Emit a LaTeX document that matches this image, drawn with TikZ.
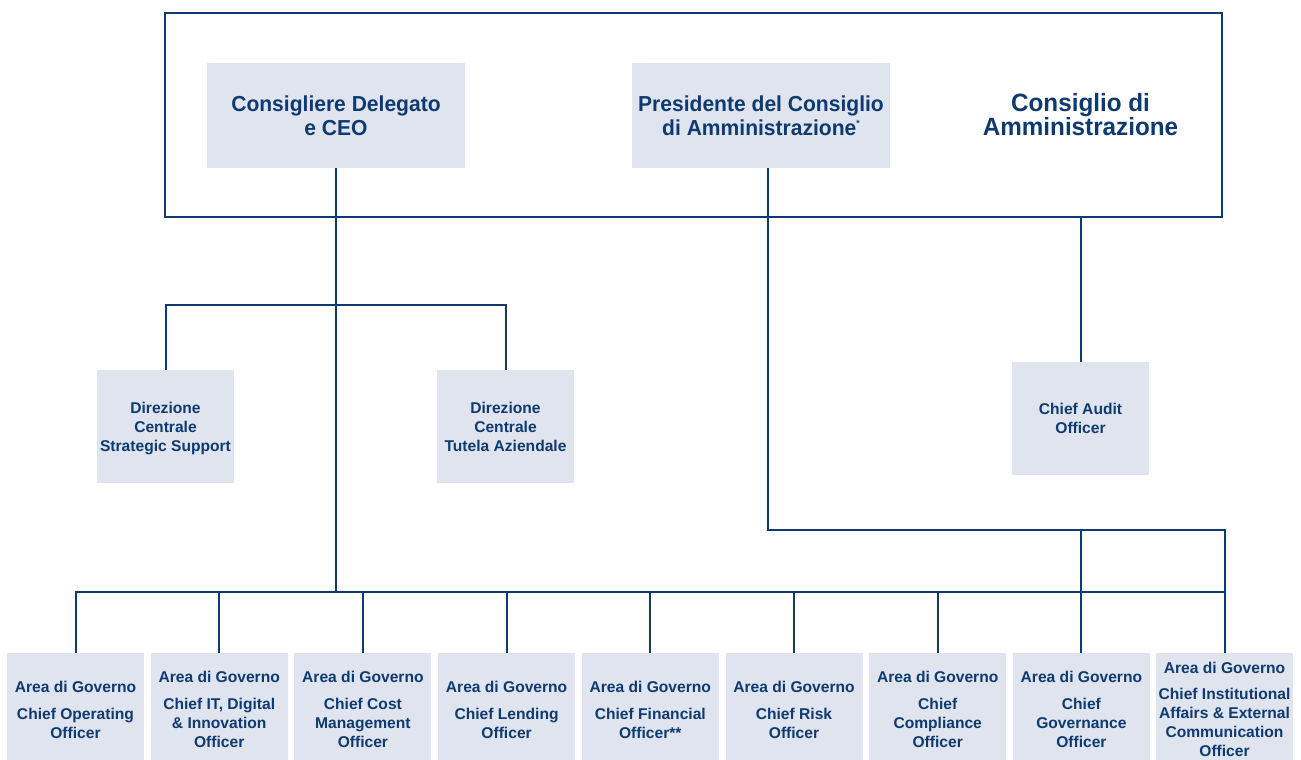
\documentclass[tikz,border=0pt]{standalone}
\usepackage{fontspec}
\setmainfont{Liberation Sans}
\newfontfamily\topfont{Liberation Sans}[FakeStretch=0.97]
\definecolor{boxfill}{RGB}{223,228,239}
\definecolor{navy}{RGB}{14,58,112}
\tikzset{
  orgbox/.style={fill=boxfill, inner sep=0pt, outer sep=0pt, align=center, text=navy,
    text depth=0pt, font=\fontsize{15.6}{19}\selectfont\bfseries,
    minimum width=137pt, minimum height=113pt},
  topbox/.style={orgbox, minimum width=258pt, minimum height=105pt,
    font=\topfont\fontsize{21.7}{24.3}\selectfont\bfseries},
  frame/.style={draw=navy, line width=2pt, inner sep=0pt, outer sep=0pt,
    minimum width=1057pt, minimum height=204pt},
  link/.style={draw=navy, line width=2pt},
}
\begin{document}
\begin{tikzpicture}[x=1pt,y=-1pt]
\useasboundingbox (0,0) rectangle (1301,760);
\clip (0,0) rectangle (1301,760);
% board frame
\node[frame] (cda) at (693.5,115) {};
\node[text=navy, align=center, font=\topfont\fontsize{25}{24}\selectfont\bfseries] (cdalabel) at (1080.5,115) {Consiglio di\\Amministrazione};
\node[topbox] (ceo) at (336,115.5) {Consigliere Delegato\\e CEO};
\node[topbox] (pres) at (761,115.5) {Presidente del Consiglio\\di Amministrazione\raisebox{9pt}{\fontsize{9}{9}\selectfont *}};
% middle
\node[orgbox] (dcs) at (165.5,426.5) {Direzione\\Centrale\\Strategic Support};
\node[orgbox] (dta) at (505.5,426.5) {Direzione\\Centrale\\Tutela Aziendale};
\node[orgbox] (audit) at (1080.5,418) {Chief Audit\\Officer};
% bottom row
\node[orgbox] (a1) at (75.5,709.5) {Area di Governo\\[8pt]Chief Operating\\Officer};
\node[orgbox] (a2) at (219.2,709.5) {Area di Governo\\[8pt]Chief IT, Digital\\\& Innovation\\Officer};
\node[orgbox] (a3) at (362.9,709.5) {Area di Governo\\[8pt]Chief Cost\\Management\\Officer};
\node[orgbox] (a4) at (506.6,709.5) {Area di Governo\\[8pt]Chief Lending\\Officer};
\node[orgbox] (a5) at (650.3,709.5) {Area di Governo\\[8pt]Chief Financial\\Officer**};
\node[orgbox] (a6) at (794,709.5) {Area di Governo\\[8pt]Chief Risk\\Officer};
\node[orgbox] (a7) at (937.7,709.5) {Area di Governo\\[8pt]Chief\\Compliance\\Officer};
\node[orgbox] (a8) at (1081.4,709.5) {Area di Governo\\[8pt]Chief\\Governance\\Officer};
\node[orgbox] (a9) at (1224.5,709.5) {Area di Governo\\[7pt]Chief Institutional\\Affairs \& External\\Communication\\Officer};
% junction points
\coordinate (bus) at (336,592);
\coordinate (dbar) at (336,305);
\coordinate (pbar) at (1081.4,530);
\coordinate (presout) at (768,168);
% connectors
\draw[link] (ceo.south) -- (bus);
\draw[link] (dcs.north) |- (dbar) -| (dta.north);
\draw[link] (a1.north) |- (bus) -| (a9.north);
\foreach \n in {a2,a3,a4,a5,a6,a7,a8} {
  \draw[link] (\n.north) -- (\n.north |- bus);
}
\draw[link] (presout) |- (pbar) -| (a9.north);
\draw[link] (pbar) -- (a8.north |- bus);
\draw[link] (cda.south -| audit.north) -- (audit.north);
\end{tikzpicture}
\end{document}
